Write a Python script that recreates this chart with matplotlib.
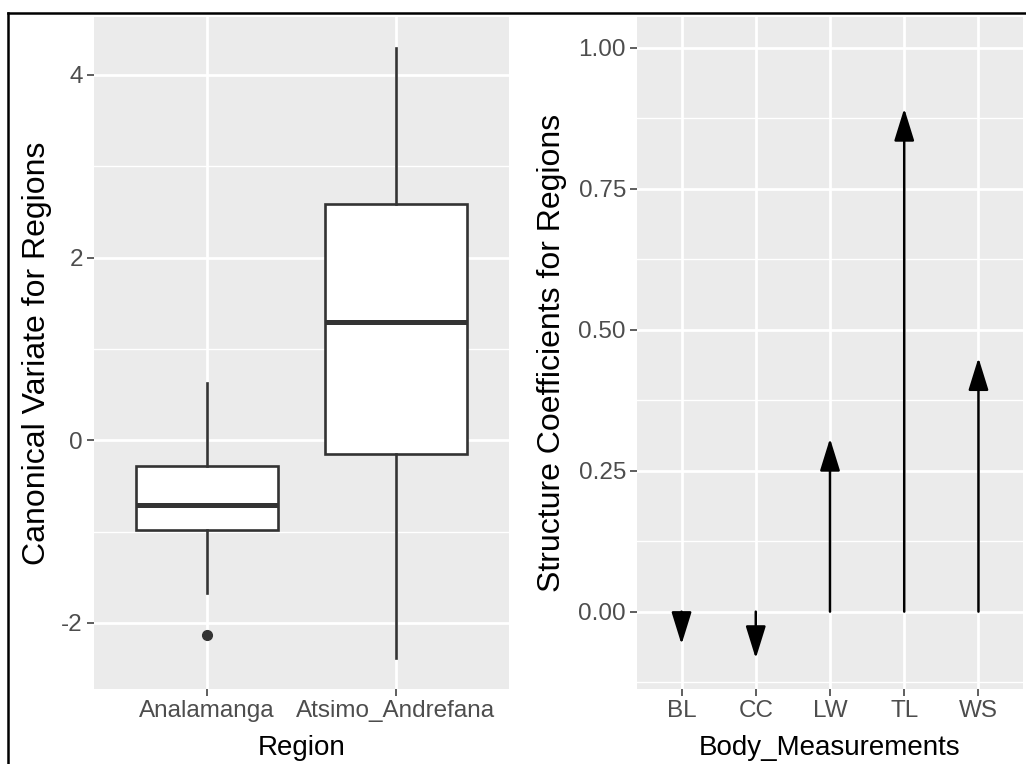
import matplotlib
matplotlib.use("Agg")
import matplotlib.pyplot as plt
from matplotlib.lines import Line2D
import numpy as np

# ---- data ----
regions = ["Analamanga", "Atsimo_Andrefana"]
box_whislo = [-1.669, -2.39]
box_q1 = [-0.987, -0.149]
box_med = [-0.709, 1.29]
box_q3 = [-0.283, 2.587]
box_whishi = [0.624, 4.30]
box_fliers = [[-2.133], []]

measurements = ["BL", "CC", "LW", "TL", "WS"]
coefficients = [-0.058, -0.083, 0.307, 0.892, 0.450]
coef_upper_limit = 1.0

left_yticks = [-2, 0, 2, 4]
left_yminor = [-1, 1, 3]
right_yticks = [0.0, 0.25, 0.50, 0.75, 1.00]
right_yminor = [-0.125, 0.125, 0.375, 0.625, 0.875]

# ---- style ----
plt.rcParams['font.family'] = ['Liberation Sans', 'DejaVu Sans']
PANEL = "#EBEBEB"
TICKCOL = "#4D4D4D"
TICKMARK = "#333333"
TICK_FS = 17.5
TITLE_FS = 20
YTITLE_FS = 23

W, H = 1026, 764
fig = plt.figure(figsize=(W / 100, H / 100), dpi=100)
fig.patch.set_facecolor("white")

def px_axes(x0, x1, y0, y1):
    return fig.add_axes([x0 / W, 1 - y1 / H, (x1 - x0) / W, (y1 - y0) / H])

def style(ax):
    ax.set_facecolor(PANEL)
    for s in ax.spines.values():
        s.set_visible(False)
    ax.tick_params(axis='both', which='major', length=5, width=1.1, color=TICKMARK,
                   labelcolor=TICKCOL, labelsize=TICK_FS, pad=3)
    ax.tick_params(axis='both', which='minor', length=0)
    ax.grid(True, which='major', color='white', linewidth=2.0)
    ax.grid(True, which='minor', axis='y', color='white', linewidth=1.0)
    ax.set_axisbelow(True)

def expand(lo, hi, f=0.05):
    r = hi - lo
    return lo - f * r, hi + f * r

# ---- left panel: boxplots ----
ax1 = px_axes(94, 509, 17, 689)
style(ax1)
stats = []
for i, name in enumerate(regions):
    stats.append(dict(label=name, whislo=box_whislo[i], q1=box_q1[i], med=box_med[i],
                      q3=box_q3[i], whishi=box_whishi[i], fliers=box_fliers[i]))
pos = np.arange(1, len(regions) + 1)
ax1.bxp(stats, positions=pos, widths=0.75, patch_artist=True, showcaps=False,
        boxprops=dict(facecolor='white', edgecolor=TICKMARK, linewidth=1.9),
        whiskerprops=dict(color=TICKMARK, linewidth=1.9),
        medianprops=dict(color=TICKMARK, linewidth=3.6),
        flierprops=dict(marker='o', markerfacecolor=TICKMARK, markeredgecolor=TICKMARK,
                        markersize=7))
ax1.set_xlim(0.4, len(regions) + 0.6)
lo = min(min(box_whislo), min(min(f) for f in box_fliers if f))
hi = max(box_whishi)
ax1.set_ylim(*expand(lo, hi))
ax1.set_yticks(left_yticks)
ax1.set_yticklabels([str(v) for v in left_yticks])
ax1.set_yticks(left_yminor, minor=True)
ax1.set_xticks(pos)
ax1.set_xticklabels(regions)
ax1.set_xlabel("Region", fontsize=TITLE_FS, color='black')
ax1.set_ylabel("Canonical Variate for Regions", fontsize=YTITLE_FS, color='black')
ax1.xaxis.set_label_coords(0.5, -0.088)
ax1.yaxis.set_label_coords(-0.138, 0.5)
ax1.xaxis.label.set_va('center')
ax1.yaxis.label.set_va('center')

# ---- right panel: arrows ----
ax2 = px_axes(637, 1023, 17, 689)
style(ax2)
xpos = np.arange(1, len(measurements) + 1)
for x, v in zip(xpos, coefficients):
    ax2.annotate('', xy=(x, v), xytext=(x, 0),
                 arrowprops=dict(arrowstyle='-|>,head_length=1.0,head_width=0.31',
                                 mutation_scale=20, color='black', lw=1.8,
                                 shrinkA=0, shrinkB=0))
ax2.set_xlim(0.4, len(measurements) + 0.6)
ax2.set_ylim(*expand(min(min(coefficients), 0), coef_upper_limit))
ax2.set_yticks(right_yticks)
ax2.set_yticklabels([f"{v:.2f}" for v in right_yticks])
ax2.set_yticks(right_yminor, minor=True)
ax2.set_xticks(xpos)
ax2.set_xticklabels(measurements)
ax2.set_xlabel("Body_Measurements", fontsize=TITLE_FS, color='black')
ax2.set_ylabel("Structure Coefficients for Regions", fontsize=YTITLE_FS, color='black')
ax2.xaxis.set_label_coords(0.5, -0.088)
ax2.yaxis.set_label_coords(-0.22, 0.5)
ax2.xaxis.label.set_va('center')
ax2.yaxis.label.set_va('center')

# ---- outer border (left and top edges) ----
fig.add_artist(Line2D([8 / W, 8 / W], [0, 1 - 12.5 / H], color='black', lw=1.8,
                      transform=fig.transFigure))
fig.add_artist(Line2D([8 / W, 1], [1 - 12.5 / H, 1 - 12.5 / H], color='black', lw=1.8,
                      transform=fig.transFigure))

fig.savefig("out.png", dpi=100)
